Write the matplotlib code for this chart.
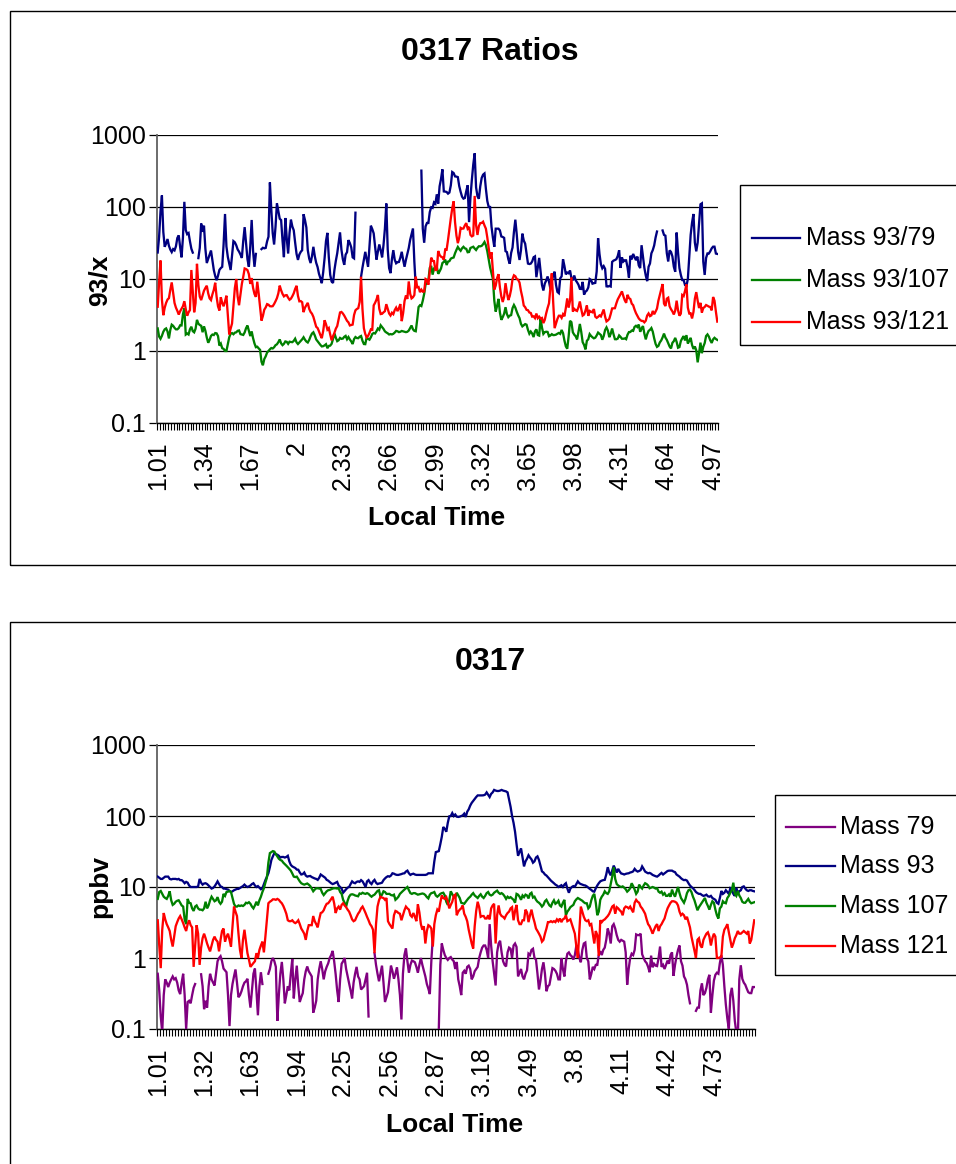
import numpy as np
import matplotlib
matplotlib.use("Agg")
import matplotlib.pyplot as plt
from matplotlib.lines import Line2D
from matplotlib.patches import Rectangle
from matplotlib.ticker import FixedLocator, NullLocator

plt.rcParams['font.family'] = ['Liberation Sans', 'DejaVu Sans']

W, H = 956, 1164
nan = np.nan

# Local time categories (decimal hours, 0.01 steps)
local_time = np.round(np.arange(101, 501) / 100, 2)

mass_79 = [
    0.6, 0.35, 0.15, 0.09, 0.3, 0.5, 0.45, 0.39, 0.45, 0.5, 0.55, 0.5, 0.52, 0.45, 0.35, 0.31, 0.45, 0.6, 0.3, 0.1,
    0.24, 0.25, 0.23, 0.3, 0.38, 0.43, nan, nan, nan, 0.59, 0.4, 0.19, 0.25, 0.2, 0.4, 0.6, 0.5, 0.45, 0.41, 0.6,
    0.9, 1.0, 1.06, 0.9, 0.71, 0.67, 0.63, 0.3, 0.11, 0.3, 0.43, 0.55, 0.69, 0.45, 0.28, 0.3, 0.34, 0.4, 0.45, 0.47,
    0.51, 0.3, 0.2, 0.35, 0.6, 0.71, 0.35, 0.156, 0.4, 0.63, 0.43, nan, nan, nan, 0.6, 0.7, 0.9, 1.0, 0.9, 0.75,
    0.13, 0.3, 0.6, 0.88, 0.5, 0.23, 0.3, 0.4, 0.35, 0.6, 0.97, 0.27, 0.5, 0.78, 0.4, 0.24, 0.28, 0.32, 0.5, 0.65,
    0.76, 0.65, 0.6, 0.55, 0.17, 0.2, 0.25, 0.5, 0.7, 0.9, 0.7, 0.5, 0.65, 0.75, 0.84, 1.0, 1.1, 1.26, 0.9, 0.59,
    0.35, 0.24, 0.5, 0.83, 0.9, 1.0, 0.7, 0.55, 0.44, 0.35, 0.27, 0.45, 0.6, 0.75, 0.55, 0.5, 0.36, 0.38, 0.4, 0.5,
    0.62, 0.15, nan, nan, nan, 1.17, 0.8, 0.6, 0.47, 0.6, 0.78, 0.45, 0.24, 0.28, 0.33, 0.5, 0.78, 0.65, 0.51, 0.6,
    0.74, 0.5, 0.3, 0.136, 0.6, 1.1, 1.37, 0.9, 0.62, 0.8, 0.92, 0.9, 0.87, 0.75, 0.62, 0.8, 1.0, 0.8, 0.66, 0.55,
    0.43, 0.37, 0.31, 0.9, 2.0, nan, nan, nan, 0.1, 0.8, 1.6, 1.3, 1.1, 1.0, 0.94, 1.0, 1.03, 0.95, 0.9, 0.7,
    0.88, 0.5, 0.4, 0.3, 0.62, 0.66, 0.6, 0.75, 0.78, 0.7, 0.5, 0.55, 0.65, 0.7, 0.75, 1.0, 1.2, 1.4, 1.5, 1.5,
    1.3, 1.0, 3.0, 1.5, 0.9, 0.6, 0.41, 1.2, 1.6, 1.75, 1.2, 0.9, 0.8, 0.76, 1.2, 1.4, 1.35, 1.0, 1.5, 1.6,
    1.43, 0.55, 0.62, 0.7, 0.55, 0.5, 0.6, 0.67, 1.15, 1.1, 1.3, 1.35, 1.0, 0.95, 0.6, 0.36, 0.48, 0.7, 0.87, 0.6,
    0.34, 0.4, 0.42, 0.55, 0.72, 0.7, 0.66, 0.6, 0.5, 0.5, 1.0, 0.7, 0.55, 0.9, 1.15, 1.2, 1.1, 1.05, 0.95, 1.1,
    1.5, 1.3, 1.0, 0.87, 1.3, 1.6, 1.65, 1.0, 0.9, 0.5, 0.6, 0.75, 0.7, 0.8, 0.8, 1.1, 1.25, 1.1, 1.3, 1.4,
    1.8, 2.6, 2.2, 1.6, 2.8, 3.0, 2.6, 2.1, 1.8, 1.7, 1.8, 1.75, 1.7, 1.2, 0.42, 0.7, 1.0, 1.15, 1.1, 1.3,
    2.15, 2.1, 2.1, 2.2, 1.13, 1.0, 0.9, 0.85, 0.75, 0.63, 1.08, 0.74, 0.83, 0.78, 0.77, 1.0, 1.45, 0.75, 0.8, 0.7,
    0.8, 0.92, 0.83, 1.1, 1.2, 0.56, 0.8, 1.05, 1.3, 1.5, 0.9, 0.78, 0.55, 0.5, 0.42, 0.3, 0.23, nan, nan, nan,
    0.18, 0.2, 0.2, 0.35, 0.44, 0.3, 0.32, 0.38, 0.5, 0.58, 0.17, 0.3, 0.48, 0.58, 0.62, 0.6, 0.85, 1.1, 0.8, 0.4,
    0.22, 0.14, 0.1, 0.3, 0.38, 0.25, 0.13, 0.09, 0.073, 0.5, 0.79, 0.51, 0.45, 0.42, 0.37, 0.33, 0.32, 0.32, 0.39, 0.39,
]

mass_93 = [
    14, 13.5, 13, 13, 13.5, 14, 14, 14, 13, 12.8, 13, 13, 13, 12.8, 13, 12.5, 12.5, 12, 11.3, 11.8,
    11.5, 10.5, 10, 10, 10, 10, 10, 10.2, 13, 11.5, 10.8, 11.2, 11.3, 11, 10.5, 10, 9.5, 9.7, 10.2, 11,
    12, 11, 10.2, 10, 9.5, 9.5, 9.3, 9.2, 8.8, 8.5, 8.7, 9.0, 9.2, 9.4, 9.4, 9.7, 10, 10.3, 10.8, 10.3,
    10, 10.2, 10.5, 11, 11.3, 10.5, 10, 10.3, 9.8, 9.3, 9.6, 11, 12.5, 14, 15.6, 19, 24, 27, 30, 29,
    28.5, 27.5, 26, 26.5, 26.5, 26, 26.5, 27.5, 23, 20.5, 19.5, 19, 18.5, 17.6, 17.5, 16, 15, 15.2, 16, 14.5,
    14, 14.2, 14.3, 13.8, 13.5, 13.2, 13, 12.6, 13.5, 15, 14.5, 14, 13.5, 12.6, 12.3, 11.8, 11.3, 11, 11.2, 11.5,
    11.8, 10.5, 10, 9.5, 8.3, 8.8, 9.3, 9.8, 10, 11, 12, 11.5, 11.3, 11.8, 12, 11.8, 12.5, 12, 11, 10,
    12, 12.5, 11.5, 11, 12, 12.6, 11.5, 11, 11.2, 11.3, 11.5, 12.5, 13.2, 13.8, 14.2, 14, 14.5, 15.6, 15.4, 15,
    14.8, 14.8, 15, 15.2, 15.5, 15.6, 16.5, 17, 15.6, 14.8, 15.2, 15.4, 15, 14.8, 14.8, 14.8, 14.8, 14.8, 14.8, 14.8,
    15, 15.6, 15.6, 15.6, 15.6, 23, 31, 31.5, 32, 40, 51, 70, 66, 60, 80, 99, 100, 110, 100, 105,
    98, 97, 98, 100, 102, 108, 97, 115, 124, 140, 153, 163, 173, 185, 195, 195, 195, 195, 196, 200,
    215, 200, 185, 205, 215, 233, 228, 225, 225, 228, 233, 228, 225, 222, 215, 170, 135, 100, 80, 60,
    40, 27.5, 31, 35, 26, 19.5, 23, 25, 28, 26, 24.5, 22, 23, 26, 27, 24, 20, 16.6, 16, 15,
    14.5, 13.7, 13, 12.3, 11.8, 11.3, 10.8, 10.5, 10.0, 10.3, 10.6, 10.0, 10.8, 11.3, 9.5, 8.3, 9.5, 10, 10.3, 10.1,
    11, 12, 11.3, 11, 10.8, 10.6, 10.5, 10.2, 9.8, 9.4, 9.1, 8.7, 8.6, 9.6, 10.5, 11.3, 12, 12.3, 12.5, 12.6,
    15, 19, 16, 14.6, 17, 20, 18, 16, 18, 16.5, 15.5, 15.3, 15, 15.3, 15.5, 15.6, 16, 16.2, 16.6, 18,
    17, 16.5, 16.8, 17.3, 19.5, 18, 16.5, 16, 15.6, 15.8, 15.4, 14.8, 14.5, 14.2, 14, 14.5, 15.2, 15.8, 15, 15.6,
    16.2, 16.8, 17, 17, 17, 16.5, 16.2, 15, 14.5, 14, 13.3, 12.8, 12.5, 12.6, 12.3, 11.3, 10.5, 10, 9.6, 9.1,
    8.5, 8.2, 8.0, 8.0, 7.7, 7.5, 7.6, 7.8, 7.4, 7.3, 7.5, 7.0, 6.8, 6.6, 6.0, 5.8, 7.0, 8.8, 8.0, 8.3,
    9.0, 8.5, 8.0, 9.6, 9.2, 8.0, 7.5, 9.8, 8.2, 8.7, 9.0, 10.0, 10.2, 9.5, 9.0, 8.8, 9.0, 9.0, 8.8, 8.7,
]

mass_107 = [
    6.8, 8.5, 8.8, 8.0, 7.3, 7.0, 6.8, 7.5, 8.7, 6.5, 5.6, 5.8, 6.2, 6.4, 6.5, 6.0, 5.5, 5.3, 3.5, 3.0,
    6.8, 6.0, 5.9, 5.0, 4.6, 5.3, 5.5, 5.0, 4.8, 4.8, 4.7, 5.0, 6.2, 5.0, 5.5, 6.5, 7.3, 6.8, 6.3, 6.5,
    7.2, 6.2, 5.8, 6.2, 8.0, 7.5, 8.5, 8.6, 8.8, 8.5, 7.0, 5.8, 5.3, 5.3, 5.5, 5.4, 5.5, 5.4, 5.6, 6.0,
    5.9, 6.1, 5.8, 5.3, 5.0, 5.5, 6.2, 5.5, 6.5, 7.3, 8.5, 9.6, 11.5, 13.5, 22, 30, 31, 32, 31.5, 29,
    27, 25, 24, 23.5, 22, 21, 20, 19, 18, 17, 15.5, 14, 13.8, 14, 13, 12, 11.3, 11, 10.8, 11,
    11.2, 10.8, 10.3, 9.5, 8.7, 9.2, 9.6, 9.6, 9.5, 9.4, 8.3, 7.7, 8.2, 8.7, 9.0, 9.1, 9.3, 9.5, 9.6, 9.6,
    9.5, 9.6, 8.5, 8.0, 6.6, 6.0, 5.3, 6.4, 7.3, 7.8, 7.9, 7.8, 7.6, 7.5, 7.4, 8.1, 8.0, 8.3, 8.1, 8.0,
    8.2, 8.0, 7.6, 7.3, 7.6, 7.8, 8.3, 8.8, 9.0, 7.3, 7.8, 8.7, 8.5, 8.0, 8.0, 8.0, 7.7, 7.6, 7.8, 6.6,
    6.9, 7.3, 8.0, 8.4, 8.8, 9.2, 9.6, 10, 9.0, 8.2, 8.0, 8.2, 8.2, 8.0, 7.8, 7.9, 8.0, 8.1, 8.0, 7.7,
    7.2, 6.9, 7.8, 8.2, 8.3, 8.5, 7.6, 7.3, 7.6, 8.0, 8.2, 8.3, 7.6, 6.2, 5.6, 6.5, 8.7, 7.9, 7.3, 7.1,
    8.3, 7.6, 7.0, 6.0, 5.9, 5.8, 6.2, 6.6, 7.0, 7.3, 7.8, 8.2, 7.6, 7.3, 7.0, 7.5, 7.9, 7.3, 7.0, 7.5,
    8.2, 8.5, 7.8, 7.6, 7.8, 8.3, 8.6, 8.9, 8.3, 8.0, 8.2, 7.9, 7.4, 6.8, 7.3, 7.0, 7.2, 6.9, 6.6, 6.0,
    8.0, 7.8, 7.3, 6.6, 7.6, 7.2, 7.8, 7.6, 6.9, 8.0, 8.3, 7.1, 7.3, 6.6, 6.2, 6.0, 5.7, 5.3, 5.6, 6.3,
    6.6, 6.0, 5.5, 5.3, 6.0, 6.5, 5.8, 6.0, 6.4, 5.5, 5.3, 6.0, 6.6, 4.0, 4.5, 4.8, 5.2, 5.4, 5.6, 6.3,
    6.7, 7.0, 6.8, 6.6, 6.4, 6.1, 5.9, 5.9, 5.0, 5.3, 6.5, 7.5, 8.0, 6.0, 4.0, 4.5, 6.6, 7.3, 7.8, 8.7,
    8.2, 8.0, 8.7, 11, 14, 19, 13, 11, 10.5, 10.2, 10, 10.2, 9.8, 9.3, 8.6, 9.0, 9.6, 11.3, 10.3, 9.2,
    8.0, 8.6, 10.8, 10.0, 9.5, 10.5, 11.3, 11, 10.5, 9.6, 9.8, 10, 9.8, 9.5, 9.6, 8.6, 8.3, 8.6, 7.8, 8.2,
    7.5, 7.5, 7.9, 7.3, 9.2, 8.0, 7.3, 8.6, 10, 8.2, 7.0, 6.5, 6.0, 6.8, 8.2, 9.0, 9.2, 8.5, 7.3, 6.5,
    5.5, 4.7, 5.2, 5.6, 6.0, 6.5, 7.0, 6.0, 5.4, 4.8, 5.6, 6.3, 6.0, 4.8, 4.0, 3.6, 5.0, 5.3, 6.3, 6.0,
    5.9, 7.0, 7.5, 8.3, 9.0, 11.5, 8.0, 7.5, 8.8, 7.6, 7.0, 6.2, 6.0, 6.0, 6.4, 6.8, 6.2, 5.9, 6.0, 6.1,
]

mass_121 = [
    3.4, 1.5, 0.72, 2.5, 4.3, 3.5, 3.0, 2.7, 2.4, 1.8, 1.45, 2.0, 2.8, 3.2, 3.6, 3.9, 3.5, 3.1, 2.7, 2.4,
    3.0, 3.4, 2.9, 2.7, 0.75, 1.5, 2.9, 2.2, 0.8, 1.4, 1.9, 2.2, 1.9, 1.6, 1.4, 1.24, 1.5, 1.8, 2.0, 1.8,
    1.7, 1.24, 1.8, 2.4, 2.6, 1.7, 2.0, 2.2, 1.8, 1.45, 2.8, 5.3, 4.5, 3.9, 2.2, 1.3, 1.0, 1.8, 2.5, 1.7,
    1.17, 0.95, 0.75, 0.8, 0.85, 0.9, 1.17, 1.0, 1.3, 1.5, 1.7, 1.2, 2.0, 3.5, 5.9, 6.2, 6.4, 6.7, 6.7, 6.6,
    6.8, 6.6, 6.2, 5.9, 5.4, 4.8, 4.2, 3.4, 3.3, 3.3, 3.4, 3.2, 3.1, 3.2, 3.4, 3.0, 2.6, 2.4, 2.2, 1.8,
    2.4, 2.9, 2.9, 2.9, 3.9, 3.3, 3.0, 2.7, 3.5, 4.3, 4.4, 4.7, 5.3, 5.8, 5.9, 6.3, 6.8, 7.3, 5.9, 4.3,
    5.0, 5.3, 4.8, 5.6, 5.9, 5.5, 5.2, 4.8, 4.5, 4.0, 3.5, 3.3, 3.4, 3.8, 4.2, 4.5, 5.0, 5.3, 4.8, 4.3,
    3.8, 3.4, 3.0, 2.8, 2.5, 1.17, 3.0, 5.3, 6.5, 7.3, 7.1, 7.0, 6.6, 7.0, 3.3, 3.0, 2.8, 2.6, 4.0, 4.6,
    4.5, 4.3, 4.2, 3.4, 4.0, 4.7, 5.3, 5.0, 4.8, 4.0, 3.8, 4.3, 3.8, 3.3, 5.7, 4.4, 3.0, 2.5, 2.8, 1.6,
    2.4, 2.9, 2.8, 2.6, 1.45, 3.0, 4.0, 4.8, 4.5, 6.0, 7.6, 7.0, 6.8, 7.2, 6.2, 5.0, 5.6, 6.2, 7.5, 7.8,
    4.0, 4.5, 4.8, 5.0, 5.5, 4.2, 3.8, 3.3, 2.5, 2.0, 1.6, 1.36, 2.8, 4.6, 6.2, 5.2, 3.8, 3.9, 3.9, 3.6,
    3.6, 4.0, 3.5, 5.0, 5.5, 5.8, 1.6, 4.0, 5.5, 4.2, 3.9, 3.8, 3.6, 4.0, 4.3, 4.5, 5.0, 5.2, 3.4, 4.6,
    5.6, 3.4, 3.0, 3.0, 3.4, 3.4, 4.8, 4.4, 3.2, 4.0, 4.8, 3.8, 3.2, 2.6, 2.4, 2.2, 2.0, 1.7, 1.8, 2.2,
    2.6, 3.2, 3.2, 3.3, 3.2, 3.3, 3.2, 3.5, 3.3, 3.6, 3.2, 3.5, 3.6, 4.0, 3.3, 3.4, 3.5, 3.0, 2.6, 2.2,
    1.45, 1.0, 2.4, 5.3, 4.5, 3.8, 3.4, 3.3, 3.4, 2.9, 3.0, 2.2, 1.6, 2.4, 2.1, 1.07, 3.4, 3.2, 3.4, 3.5,
    3.7, 3.9, 4.2, 4.7, 5.3, 5.5, 4.2, 5.2, 5.0, 4.7, 4.5, 4.0, 5.0, 5.3, 5.2, 5.0, 5.3, 4.8, 4.4, 6.0,
    6.6, 6.2, 6.0, 5.3, 5.0, 4.6, 4.2, 3.5, 3.0, 2.8, 2.5, 2.2, 2.5, 2.8, 3.0, 2.4, 2.8, 3.0, 3.3, 3.6,
    4.3, 5.0, 5.5, 6.0, 6.3, 6.3, 6.2, 6.0, 5.5, 4.5, 4.0, 4.2, 4.0, 3.5, 3.8, 3.2, 2.7, 2.0, 1.6, 1.27,
    1.0, 1.8, 1.9, 1.5, 1.4, 1.8, 2.0, 2.2, 2.3, 2.0, 1.5, 1.9, 2.2, 2.0, 1.0, 1.0, 1.02, 1.05, 2.0, 2.5,
    2.7, 3.0, 2.3, 1.8, 1.4, 1.6, 1.9, 2.1, 2.4, 2.2, 2.2, 2.3, 2.4, 2.3, 2.2, 2.4, 1.6, 1.8, 2.5, 3.4,
]

for series in (mass_79, mass_93, mass_107, mass_121):
    assert len(series) == len(local_time)

m79 = np.array(mass_79, dtype=float)
m93 = np.array(mass_93, dtype=float)
m107 = np.array(mass_107, dtype=float)
m121 = np.array(mass_121, dtype=float)

ratio_series = [
    ("Mass 93/79", m93 / m79, "#000080"),
    ("Mass 93/107", m93 / m107, "#008000"),
    ("Mass 93/121", m93 / m121, "#FF0000"),
]
mass_series = [
    ("Mass 79", m79, "#800080"),
    ("Mass 93", m93, "#000080"),
    ("Mass 107", m107, "#008000"),
    ("Mass 121", m121, "#FF0000"),
]

y_ticks = [0.1, 1, 10, 100, 1000]
y_tick_labels = ["0.1", "1", "10", "100", "1000"]

TICK_FS = 18
LABEL_FS = 19
TITLE_FS = 23
LEGEND_FS = 18
LINE_W = 1.65


def fx(px):
    return px / W


def fy(py):
    return 1 - py / H


def time_label(t):
    return f"{t:.2f}".rstrip("0").rstrip(".")


fig = plt.figure(figsize=(W / 100, H / 100), dpi=100)


def draw_panel(box, series, label_step, title, ylabel, title_xy, ylabel_xy,
               xlabel_xy, frame, legend_box, legend_rows, legend_line_x, legend_text_x):
    x0, y0, x1, y1 = box
    ax = fig.add_axes([fx(x0), fy(y1), fx(x1) - fx(x0), fy(y0) - fy(y1)])
    idx = np.arange(len(local_time))
    for name, vals, color in series:
        ax.plot(idx, vals, color=color, lw=LINE_W, solid_joinstyle="miter", zorder=3)

    ax.set_yscale("log")
    ax.set_ylim(0.1, 1000)
    ax.set_xlim(-0.5, len(local_time) - 0.5)
    ax.yaxis.set_major_locator(FixedLocator(y_ticks))
    ax.yaxis.set_minor_locator(NullLocator())
    ax.set_yticklabels(y_tick_labels)
    ax.grid(axis="y", which="major", color="black", lw=0.9, zorder=1)
    ax.set_axisbelow(True)

    label_idx = np.arange(0, len(local_time), label_step)
    ax.xaxis.set_major_locator(FixedLocator(label_idx))
    ax.set_xticklabels([time_label(local_time[i]) for i in label_idx],
                       rotation=90, va="top", ha="center")
    ax.xaxis.set_minor_locator(FixedLocator(np.arange(-0.5, len(local_time), 2)))

    ax.tick_params(axis="x", which="major", length=0, pad=13, labelsize=TICK_FS)
    ax.tick_params(axis="x", which="minor", length=5, width=0.8, direction="out", color="black")
    ax.tick_params(axis="y", which="major", length=6, width=0.9, direction="out",
                   pad=2, labelsize=TICK_FS)

    for side in ("top", "right"):
        ax.spines[side].set_visible(False)
    ax.spines["left"].set_color("#606060")
    ax.spines["left"].set_linewidth(1.3)
    ax.spines["bottom"].set_color("black")
    ax.spines["bottom"].set_linewidth(1.0)

    fig.text(fx(title_xy[0]), fy(title_xy[1]), title, fontsize=TITLE_FS,
             fontweight="bold", ha="center", va="center")
    fig.text(fx(ylabel_xy[0]), fy(ylabel_xy[1]), ylabel, fontsize=LABEL_FS,
             fontweight="bold", ha="center", va="center", rotation=90)
    fig.text(fx(xlabel_xy[0]), fy(xlabel_xy[1]), "Local Time", fontsize=LABEL_FS,
             fontweight="bold", ha="center", va="center")

    fx0, fy0, fx1, fy1 = frame
    fig.patches.append(Rectangle((fx(fx0), fy(fy1)), fx(fx1) - fx(fx0), fy(fy0) - fy(fy1),
                                 transform=fig.transFigure, fill=False,
                                 edgecolor="black", lw=1.0))
    lx0, ly0, lx1, ly1 = legend_box
    fig.patches.append(Rectangle((fx(lx0), fy(ly1)), fx(lx1) - fx(lx0), fy(ly0) - fy(ly1),
                                 transform=fig.transFigure, fill=False,
                                 edgecolor="black", lw=1.0))
    for (name, vals, color), ry in zip(series, legend_rows):
        fig.lines.append(Line2D([fx(legend_line_x[0]), fx(legend_line_x[1])], [fy(ry), fy(ry)],
                                transform=fig.transFigure, color=color, lw=LINE_W))
        fig.text(fx(legend_text_x), fy(ry), name, fontsize=LEGEND_FS,
                 ha="left", va="center")
    return ax


draw_panel(box=(157, 135, 718, 423), series=ratio_series, label_step=33,
           title="0317 Ratios", ylabel="93/x",
           title_xy=(490, 52), ylabel_xy=(100, 280), xlabel_xy=(437, 518),
           frame=(10, 11, 975, 565),
           legend_box=(740, 185, 975, 345), legend_rows=(238, 280, 322),
           legend_line_x=(752, 800), legend_text_x=806)

draw_panel(box=(157, 745, 755, 1029), series=mass_series, label_step=31,
           title="0317", ylabel="ppbv",
           title_xy=(490, 662), ylabel_xy=(100, 887), xlabel_xy=(455, 1125),
           frame=(10, 622, 975, 1180),
           legend_box=(775, 795, 975, 975), legend_rows=(827, 866, 906, 946),
           legend_line_x=(786, 835), legend_text_x=840)

fig.savefig("out.png", dpi=100, facecolor="white")
